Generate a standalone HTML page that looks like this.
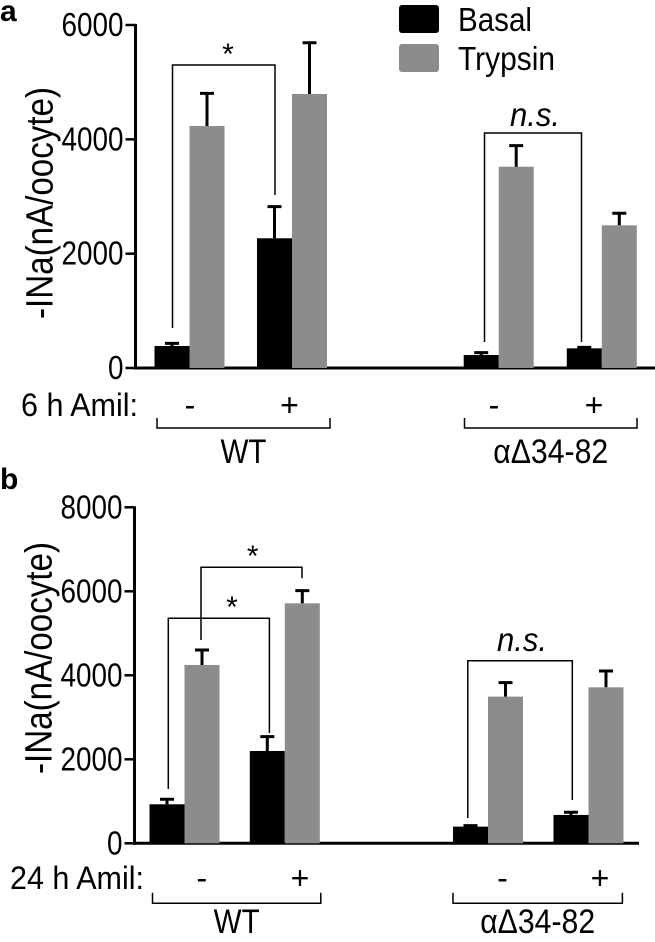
<!DOCTYPE html>
<html><head><meta charset="utf-8"><style>
html,body{margin:0;padding:0;background:#fff}
svg text{font-family:"Liberation Sans",sans-serif;fill:#000}
</style></head><body>
<svg id="chart" width="655" height="937" viewBox="0 0 655 937" xmlns="http://www.w3.org/2000/svg">
<text x="0" y="21" font-size="30" font-weight="bold">a</text>
<text x="0" y="489" font-size="30" font-weight="bold">b</text>
<rect x="399" y="5" width="40" height="28" rx="3" fill="#000"/>
<text x="458" y="31" font-size="33" textLength="74" lengthAdjust="spacingAndGlyphs">Basal</text>
<rect x="399" y="44" width="40" height="28" rx="3" fill="#8c8c8c"/>
<text x="458" y="70" font-size="33" textLength="97" lengthAdjust="spacingAndGlyphs">Trypsin</text>
</svg>
<script>
// Panel a data
const aBasal = [385, 2269, 227, 344];
const aBasalErr = [430, 2822, 268, 360];
const aTryp = [4233, 4793, 3521, 2496];
const aTrypErr = [4805, 5690, 3889, 2706];
const aTicks = [0, 2000, 4000, 6000];
// Panel b data
const bBasal = [929, 2198, 397, 675];
const bBasalErr = [1048, 2540, 421, 738];
const bTryp = [4246, 5714, 3492, 3714];
const bTrypErr = [4603, 6016, 3825, 4103];
const bTicks = [0, 2000, 4000, 6000, 8000];
const amil = ["-", "+", "-", "+"];
const groups = ["WT", "αΔ34-82"];

const svg = document.getElementById('chart');
const NS = 'http://www.w3.org/2000/svg';
function mk(tag, attrs, parent) {
  const e = document.createElementNS(NS, tag);
  for (const k in attrs) e.setAttribute(k, attrs[k]);
  (parent || svg).appendChild(e);
  return e;
}
function txt(x, y, s, size, anchor, extra, len) {
  const a = Object.assign({x: x, y: y, 'font-size': size, 'text-anchor': anchor || 'start'}, extra || {});
  if (len) { a.textLength = len; a.lengthAdjust = 'spacingAndGlyphs'; }
  const t = mk('text', a);
  t.textContent = s;
  return t;
}

function panel(cfg) {
  const y = v => cfg.y0 - (v / cfg.max) * (cfg.y0 - cfg.yTop);
  const W = 35;
  let e = mk('line', {x1: cfg.ax, y1: cfg.yTop - 1, x2: cfg.ax, y2: cfg.y0 + 1.5, stroke: '#000', 'stroke-width': 3});
  
  
  e = mk('line', {x1: cfg.ax - 1.5, y1: cfg.y0, x2: cfg.axEnd, y2: cfg.y0, stroke: '#000', 'stroke-width': 3});
  
  
  cfg.ticks.forEach(v => {
    const tl = mk('line', {x1: cfg.ax - 10, y1: y(v), x2: cfg.ax, y2: y(v), stroke: '#000', 'stroke-width': 2.5});
    
    
    const s = String(v);
    const t = txt(cfg.ax - 12, y(v) + 11, s, 33, 'end', {}, s.length * 15.5);
    
    
  });
  const yl = txt(0, 0, '-INa(nA/oocyte)', 38, 'middle', {transform: 'translate(' + (cfg.ax - 83) + ',' + cfg.yLabel + ') rotate(-90)'}, 232);
  
  
  cfg.xs.forEach((x, i) => {
    [[cfg.basal, cfg.basalErr, '#000', 'basal', x], [cfg.tryp, cfg.trypErr, '#8c8c8c', 'trypsin', x + W]].forEach(s => {
      const bx = s[4], v = s[0][i], ev = s[1][i];
      const r = mk('rect', {x: bx, y: y(v), width: W, height: cfg.y0 - y(v), fill: s[2]});
      
      
      const cx = bx + W / 2;
      const eb = mk('path', {d: 'M' + cx + ' ' + y(v) + 'V' + y(ev) + 'M' + (cx - 7) + ' ' + y(ev) + 'H' + (cx + 7), stroke: '#000', 'stroke-width': 3, fill: 'none'});
      
      
    });
    const a = txt(cfg.signX[i], cfg.amilY, amil[i], 32, 'middle');
    
    
  });
  const al = txt(cfg.amilX, cfg.amilY, cfg.amilText, 32, 'start', {}, cfg.amilLen);
  
  
  const gl = [46, 115];
  cfg.grp.forEach((g, i) => {
    const p = mk('path', {d: 'M' + g[0] + ' ' + cfg.gb[0] + 'V' + cfg.gb[1] + 'H' + g[1] + 'V' + cfg.gb[0], stroke: '#000', 'stroke-width': 1.5, fill: 'none'});
    
    
    const t = txt((g[0] + g[1]) / 2, cfg.gy, groups[i], 34, 'middle', {}, gl[i]);
    
    
  });
  cfg.sig.forEach(s => {
    const p = mk('path', {d: 'M' + s.x1 + ' ' + s.a + 'V' + s.top + 'H' + s.x2 + 'V' + s.b, stroke: '#000', 'stroke-width': 1.5, fill: 'none'});
    
    
    const star = s.label === '*';
    const t = txt(s.tx, s.ty, s.label, star ? 30 : 33, 'middle', star ? {} : {'font-style': 'italic'}, star ? 0 : 50);
    
    
  });
}

panel({ax: 135.5, axEnd: 655, yTop: 25, y0: 368, max: 6000, ticks: aTicks, yLabel: 203,
  basal: aBasal, basalErr: aBasalErr, tryp: aTryp, trypErr: aTrypErr,
  xs: [154.5, 257, 463.7, 566.8], signX: [190, 289.5, 494, 594],
  amilX: 21, amilY: 416, amilText: '6 h Amil:', amilLen: 117,
  grp: [[157, 330], [464.5, 637]], gb: [418, 428], gy: 463,
  sig: [{x1: 172.5, x2: 275, a: 328, b: 195, top: 65, tx: 228, ty: 64, label: '*'},
        {x1: 484.5, x2: 581.5, a: 342, b: 342, top: 133, tx: 535, ty: 126, label: 'n.s.'}]});
panel({ax: 134.5, axEnd: 639, yTop: 507.3, y0: 843.3, max: 8000, ticks: bTicks, yLabel: 658,
  basal: bBasal, basalErr: bBasalErr, tryp: bTryp, trypErr: bTrypErr,
  xs: [149.5, 249.8, 453, 553.5], signX: [201.8, 300, 502.5, 600],
  amilX: 10, amilY: 889, amilText: '24 h Amil:', amilLen: 134,
  grp: [[152.5, 320.8], [453, 622.4]], gb: [892.7, 903.3], gy: 933,
  sig: [{x1: 168.3, x2: 269.4, a: 789, b: 733, top: 618.3, tx: 232, ty: 617, label: '*'},
        {x1: 201, x2: 302, a: 640, b: 578.3, top: 567.3, tx: 252.7, ty: 566, label: '*'},
        {x1: 467.8, x2: 572.3, a: 818, b: 800, top: 660.7, tx: 522, ty: 651, label: 'n.s.'}]});
</script>
</body></html>
